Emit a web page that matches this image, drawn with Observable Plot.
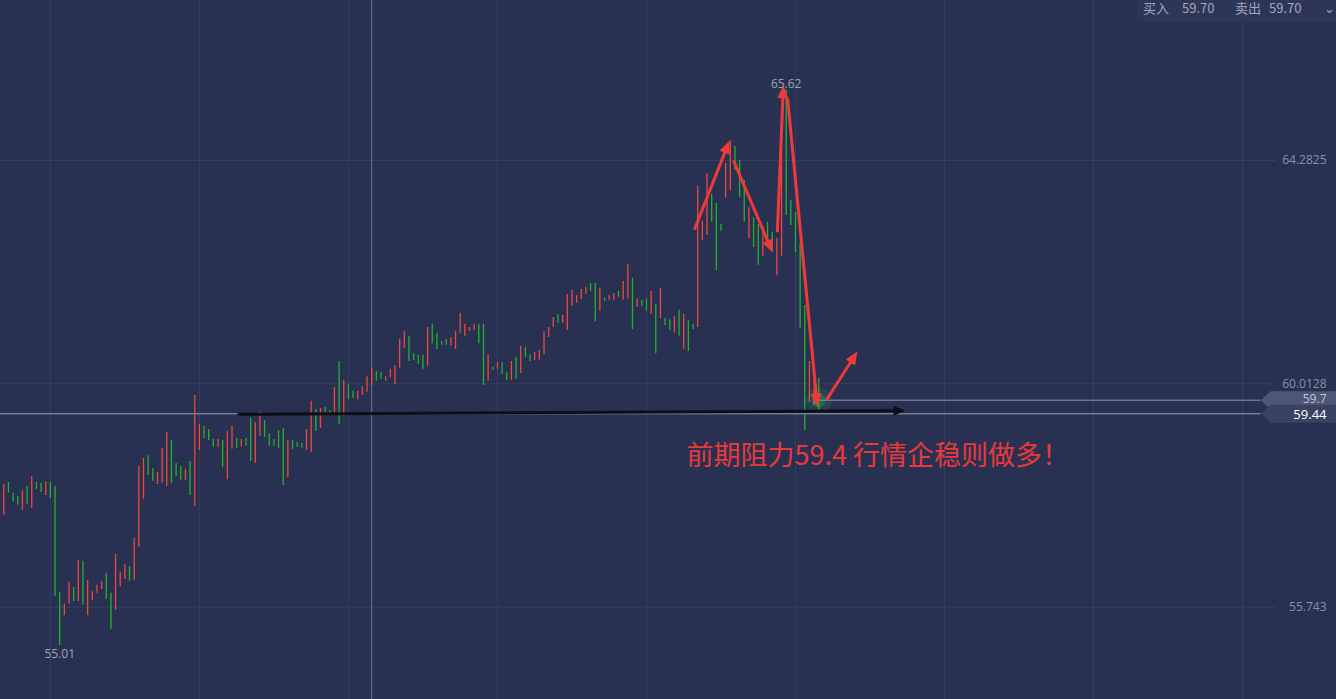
<!DOCTYPE html>
<html>
<head>
<meta charset="utf-8">
<script src="https://cdn.jsdelivr.net/npm/d3@7"></script>
<script src="https://cdn.jsdelivr.net/npm/@observablehq/plot@0.6"></script>
<style>
html,body{margin:0;padding:0;background:#283152;overflow:hidden}
#wrap{position:relative;width:1336px;height:699px}
#quote{position:absolute;top:0;right:0;width:199px;height:22px;background:#2d3657;color:#a3a8ba;
  font:13px "Noto Sans CJK SC","Noto Sans",sans-serif;line-height:15px;white-space:nowrap}
#quote span{position:absolute;top:0}
</style>
</head>
<body>
<div id="wrap"><div id="chart"></div><div id="quote"></div></div>
<script>
// ---- data ----
const highs = [58.09,58.13,57.92,57.86,57.97,58.05,58.24,58.13,58.11,58.13,58.13,58.05,56.02,55.80,56.22,56.12,56.64,56.62,56.25,56.04,
56.16,56.24,56.39,56.01,56.75,56.41,56.56,56.52,57.06,58.43,58.59,58.64,58.39,58.32,58.78,59.08,58.93,58.49,58.43,58.38,
58.53,59.79,59.24,59.20,59.14,58.95,58.95,58.93,59.10,59.20,58.97,58.95,58.97,59.35,59.27,59.47,59.31,59.06,58.95,59.12,
59.16,58.93,58.93,58.89,58.87,59.14,59.68,59.52,59.54,59.56,59.50,59.94,60.44,60.08,60.00,59.87,59.87,59.96,60.15,60.31,
60.25,60.23,60.15,60.29,60.36,60.86,61.01,60.92,60.59,60.56,60.56,61.09,61.15,60.98,60.82,60.86,60.90,61.01,61.36,61.15,
61.09,61.15,61.15,61.15,60.57,60.33,60.42,60.42,60.23,60.44,60.52,60.73,60.71,60.57,60.61,60.65,61.01,61.09,61.28,61.34,
61.32,61.72,61.80,61.70,61.82,61.86,61.93,61.93,61.84,61.66,61.70,61.74,61.78,61.97,62.29,62.03,61.64,61.61,61.63,61.78,
61.53,61.84,61.26,61.24,61.30,61.42,61.34,61.22,61.15,63.79,63.12,64.03,63.63,63.46,63.06,64.23,64.66,64.55,64.28,63.90,
63.38,63.19,63.06,63.02,63.10,62.91,62.79,64.47,65.62,63.52,63.29,62.70,61.51,60.44,60.08,60.12];
const lows = [57.50,57.92,57.76,57.69,57.59,57.71,57.63,57.99,57.94,57.88,57.82,55.95,55.01,55.58,55.80,55.85,55.85,55.78,55.58,55.87,
56.01,56.08,55.89,55.32,55.68,56.14,56.27,56.24,56.25,56.89,57.80,58.26,58.15,58.09,58.11,58.05,58.11,58.24,58.17,58.17,
57.88,57.67,58.74,58.97,58.93,58.80,58.80,58.41,58.18,58.76,58.78,58.80,58.82,58.53,58.49,59.01,58.99,58.82,58.82,58.78,
58.07,58.22,58.76,58.80,58.78,58.74,58.70,59.10,59.16,59.45,59.41,59.45,59.24,59.39,59.71,59.73,59.71,59.79,59.85,59.98,
60.06,60.10,60.06,60.13,60.00,60.31,60.69,60.44,60.46,60.38,60.29,60.35,60.78,60.67,60.75,60.75,60.73,60.67,60.98,60.92,
61.01,61.03,60.78,59.98,60.06,60.27,60.29,60.19,60.08,60.08,60.10,60.21,60.52,60.44,60.46,60.46,60.57,60.90,61.09,61.17,
61.17,61.03,61.49,61.55,61.63,61.72,61.78,61.20,61.40,61.59,61.61,61.61,61.66,61.61,61.64,61.05,61.47,61.49,61.40,61.34,
60.59,61.26,61.13,61.03,60.98,60.92,60.67,60.63,61.05,61.09,62.75,62.85,63.10,62.18,62.93,63.56,63.71,64.09,63.58,63.10,
62.79,62.62,62.28,62.45,62.62,62.58,62.08,62.45,63.23,63.04,62.52,61.07,59.12,59.66,59.60,59.52];
// 1 = rising (red), 0 = falling (green)
const rising = [1,0,0,0,1,0,1,0,0,1,0,0,0,1,1,0,1,0,1,1,
1,1,0,0,1,1,1,0,1,1,1,0,0,1,1,1,0,0,0,1,
0,1,1,0,0,0,1,0,1,1,0,1,0,0,1,1,0,0,0,0,
0,1,0,0,0,1,1,0,1,0,0,1,0,1,0,0,1,1,1,1,
0,0,1,1,1,1,1,0,0,0,0,1,0,0,0,0,1,1,1,1,
1,1,0,0,1,0,1,0,0,1,0,1,0,0,1,1,1,1,1,0,
1,1,1,1,1,1,0,0,1,0,1,1,0,1,1,0,1,0,0,1,
0,1,0,0,1,0,1,0,0,1,1,1,0,0,0,1,1,0,0,0,
1,0,0,1,0,0,1,1,0,0,0,0,0,1,1,0];
const axisTicks = [55.743, 60.0128, 64.2825];
const axisTickLabels = ["55.743", "60.0128", "64.2825"];
const gridCandles = [10, 42, 74, 106, 138, 170, 202, 234, 266];
const crossCandle = 79;
const crossPrice = 59.44;
const lastPrice = 59.7;
const highLabel = {i: 168, p: 65.62, text: "65.62"};
const lowLabel = {i: 12, p: 55.01, text: "55.01"};
const redArrows = [
  {i1: 148.3, p1: 62.96, i2: 155.8, p2: 64.66},
  {i1: 156.7, p1: 64.28, i2: 165.1, p2: 62.52},
  {i1: 166.1, p1: 62.91, i2: 167.4, p2: 65.72},
  {i1: 168.3, p1: 65.47, i2: 174.7, p2: 59.58},
  {i1: 176.7, p1: 59.71, i2: 183.3, p2: 60.63}
];
const blackArrow = [{i1: 50.2, p1: 59.43, i2: 193.6, p2: 59.50}];
const note = {i: 146.6, p: 58.62, text: "前期阻力59.4 行情企稳则做多！"};
const quoteItems = [["买入", 6], ["59.70", 45], ["卖出", 98], ["59.70", 132], ["⌄", 187]];

// ---- chart ----
const W = 1336, H = 699;
const candles = highs.map((h, i) => ({i, hi: h, lo: lows[i], up: rising[i]}));
const xDomain = [-0.709, 286.17];
const yDomain = [53.978, 67.341];
const sx = Plot.scale({x: {domain: xDomain, range: [0, W]}});
const sy = Plot.scale({y: {domain: yDomain, range: [H, 0]}});
const gridEnd = 273.3;
const tagHalf = 0.172;
function tag(price, key) {
  return [[xDomain[1], price + tagHalf], [272.0, price + tagHalf], [269.9, price],
          [272.0, price - tagHalf], [xDomain[1], price - tagHalf]].map(([x, y]) => ({x, y, key}));
}
// arrow shafts + filled triangular heads (geometry computed in screen space, mapped back to data)
function arrowParts(arr, len, half) {
  const shafts = [], heads = [];
  arr.forEach((a, k) => {
    const X1 = sx.apply(a.i1), Y1 = sy.apply(a.p1), X2 = sx.apply(a.i2), Y2 = sy.apply(a.p2);
    const L = Math.hypot(X2 - X1, Y2 - Y1), ux = (X2 - X1) / L, uy = (Y2 - Y1) / L;
    const bx = X2 - ux * len, by = Y2 - uy * len;
    shafts.push({i1: a.i1, p1: a.p1, i2: sx.invert(bx + ux * 2), p2: sy.invert(by + uy * 2)});
    [[X2, Y2], [bx - uy * half, by + ux * half], [bx + uy * half, by - ux * half]].forEach(([x, y]) =>
      heads.push({k, i: sx.invert(x), p: sy.invert(y)}));
  });
  return {shafts, heads};
}
const red = arrowParts(redArrows, 13, 5.5);
const blk = arrowParts(blackArrow, 12, 5);
const RED = "#f0473e", GREEN = "#22b32b", ARROW = "#f03a3a";
const last = candles[candles.length - 1];
const numFont = "Open Sans, Noto Sans, sans-serif";

const chart = Plot.plot({
  width: W, height: H, margin: 0,
  x: {domain: xDomain, axis: null},
  y: {domain: yDomain, axis: null},
  style: {background: "#283152", overflow: "visible"},
  marks: [
    Plot.ruleY(axisTicks, {x1: xDomain[0], x2: gridEnd, stroke: "#363f61", strokeWidth: 1}),
    Plot.ruleX(gridCandles, {stroke: "#363f61", strokeWidth: 1}),
    Plot.ruleX([crossCandle], {stroke: "#6e7496", strokeWidth: 1}),
    Plot.ruleY([crossPrice], {x1: xDomain[0], x2: 270, stroke: "#9aa0b5", strokeWidth: 1}),
    Plot.ruleY([lastPrice], {x1: last.i + 0.4, x2: 270, stroke: "#8e94aa", strokeWidth: 1}),
    Plot.ruleX(candles, {x: "i", y1: "lo", y2: "hi", stroke: d => d.up ? RED : GREEN, strokeWidth: 1.3}),
    Plot.dot([last], {x: "i", y: lastPrice, r: 13, fill: "#3fd653", fillOpacity: 0.1}),
    Plot.dot([last], {x: "i", y: lastPrice, r: 7, fill: "#3fd653", fillOpacity: 0.22}),
    Plot.link(blk.shafts, {x1: "i1", y1: "p1", x2: "i2", y2: "p2", stroke: "#0d0f16", strokeWidth: 3}),
    Plot.line(blk.heads, {x: "i", y: "p", z: "k", fill: "#0d0f16", stroke: "none"}),
    Plot.link(red.shafts, {x1: "i1", y1: "p1", x2: "i2", y2: "p2", stroke: ARROW, strokeWidth: 3}),
    Plot.line(red.heads, {x: "i", y: "p", z: "k", fill: ARROW, stroke: "none"}),
    Plot.text([highLabel], {x: "i", y: "p", text: "text", dy: -6, fill: "#9ea3b6", fontSize: 12, fontFamily: numFont}),
    Plot.text([lowLabel], {x: "i", y: "p", text: "text", dy: 9, fill: "#9ea3b6", fontSize: 12, fontFamily: numFont}),
    Plot.text(axisTicks, {y: d => d, text: (d, i) => axisTickLabels[i], frameAnchor: "right", textAnchor: "end", dx: -10, fill: "#8b90a8", fontSize: 12, fontFamily: numFont}),
    Plot.line(tag(lastPrice, "a"), {x: "x", y: "y", fill: "#4d5674", stroke: "none"}),
    Plot.line(tag(crossPrice, "b"), {x: "x", y: "y", fill: "#3a4263", stroke: "none"}),
    Plot.text([lastPrice], {y: d => d, text: d => "59.7", frameAnchor: "right", textAnchor: "end", dx: -10, dy: -1, fill: "#c3c7d4", fontSize: 12, fontFamily: numFont}),
    Plot.text([crossPrice], {y: d => d, text: d => "59.44", frameAnchor: "right", textAnchor: "end", dx: -10, dy: 1, fill: "#ffffff", fontSize: 13, fontFamily: numFont}),
    Plot.text([note], {x: "i", y: "p", text: "text", textAnchor: "start", fill: "#e8393b", fontSize: 27, fontFamily: "Noto Sans CJK SC, sans-serif"})
  ]
});
document.getElementById("chart").appendChild(chart);

const q = document.getElementById("quote");
quoteItems.forEach(([t, left]) => {
  const s = document.createElement("span");
  s.textContent = t; s.style.left = left + "px";
  q.appendChild(s);
});
</script>
</body>
</html>
